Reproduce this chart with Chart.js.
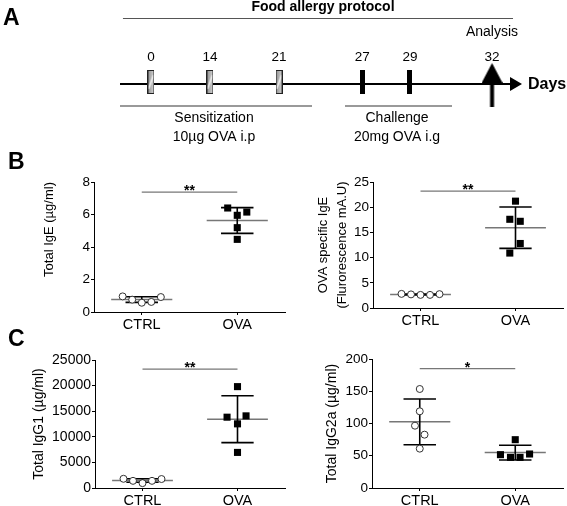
<!DOCTYPE html>
<html>
<head>
<meta charset="utf-8">
<script src="https://cdn.jsdelivr.net/npm/chart.js@4.4.0/dist/chart.umd.min.js"></script>
<style>
html, body { margin: 0; padding: 0; background: #fff; }
#fig { position: relative; width: 567px; height: 506px; overflow: hidden; font-family: "Liberation Sans", Arial, sans-serif; }
.box { position: absolute; }
.tag { position: absolute; font-weight: bold; font-size: 23px; line-height: 23px; color: #000; }
</style>
</head>
<body>
<div id="fig">
  <div class="box" id="boxA"><canvas id="chartA"></canvas></div>
  <div class="box" id="boxB1"><canvas id="chartB1"></canvas></div>
  <div class="box" id="boxB2"><canvas id="chartB2"></canvas></div>
  <div class="box" id="boxC1"><canvas id="chartC1"></canvas></div>
  <div class="box" id="boxC2"><canvas id="chartC2"></canvas></div>
  <div class="tag" style="left:3px;top:6px">A</div>
  <div class="tag" style="left:8px;top:150px">B</div>
  <div class="tag" style="left:8px;top:327px">C</div>
</div>
<script>
// ---- data ----
const groups = ['CTRL', 'OVA'];

// protocol (panel A)
const sensDays = [0, 14, 21];
const challDays = [27, 29];
const analysisDay = 32;

// B left: total IgE
const ige_ctrl = [0.96, 0.76, 0.57, 0.62, 0.92];
const ige_ova = [6.4, 5.95, 6.15, 5.19, 4.47];
const ige_ticks = [0, 2, 4, 6, 8];

// B right: OVA specific IgE
const ovaige_ctrl = [2.8, 2.7, 2.6, 2.6, 2.75];
const ovaige_ova = [21.2, 17.6, 17.2, 12.8, 10.9];
const ovaige_ticks = [0, 5, 10, 15, 20, 25];

// C left: total IgG1
const igg1_ctrl = [1800, 1400, 950, 1400, 1750];
const igg1_ova = [19800, 13830, 14090, 12530, 6950];
const igg1_ticks = [0, 5000, 10000, 15000, 20000, 25000];

// C right: total IgG2a
const igg2a_ctrl = [153.5, 118.9, 96.6, 82.7, 61];
const igg2a_ova = [74.9, 51.7, 47.5, 47.5, 52.7];
const igg2a_ticks = [0, 50, 100, 150, 200];

// significance marks
const sig_text = ['**', '**', '**', '*'];
const sig_level = [7.38, 23.2, 23200, 185];

// dot jitter (fraction of group spacing)
const jit_ige = [[-0.2, -0.1, 0, 0.1, 0.2], [-0.1, 0, 0.1, 0, 0]];
const jit_ovaige = [[-0.2, -0.1, 0, 0.1, 0.2], [0, -0.06, 0.05, 0.05, -0.06]];
const jit_igg1 = [[-0.2, -0.1, 0, 0.1, 0.2], [0, -0.11, 0.09, 0, 0]];
const jit_igg2a = [[0, 0, -0.05, 0.05, 0], [0, -0.155, -0.05, 0.05, 0.15]];

Chart.defaults.font.family = '"Liberation Sans", Arial, sans-serif';
Chart.defaults.color = '#000';
const FONT = '"Liberation Sans", Arial, sans-serif';

function place(id, left, top, w, h) {
  const b = document.getElementById(id);
  b.style.left = left + 'px'; b.style.top = top + 'px';
  b.style.width = w + 'px'; b.style.height = h + 'px';
}

function mean(a) { return a.reduce((s, v) => s + v, 0) / a.length; }
function sd(a) {
  const m = mean(a);
  return Math.sqrt(a.reduce((s, v) => s + (v - m) * (v - m), 0) / (a.length - 1));
}
function seg(x1, y1, x2, y2, color, w) {
  return { data: [{ x: x1, y: y1 }, { x: x2, y: y2 }], showLine: true,
           borderColor: color, borderWidth: w, pointRadius: 0 };
}

// ---- panel A: protocol timeline (schematic, not to scale) ----
const daySlot = { 0: 0, 14: 1, 21: 2.17, 27: 3.58, 29: 4.39, 32: 5.78 };

function hatchImg() {
  const c = document.createElement('canvas'); c.width = 7; c.height = 24;
  const g = c.getContext('2d');
  const grad = g.createLinearGradient(0, 0, 7, 0);
  grad.addColorStop(0, '#8c8c8c'); grad.addColorStop(1, '#d8d8d8');
  g.fillStyle = grad; g.fillRect(0, 0, 7, 24);
  g.strokeStyle = '#f4f4f4'; g.lineWidth = 1.5;
  g.beginPath(); g.moveTo(1, 19); g.lineTo(6, 5); g.stroke();
  g.strokeStyle = '#222'; g.lineWidth = 1; g.strokeRect(0.5, 0.5, 6, 23);
  return c;
}
function barImg() {
  const c = document.createElement('canvas'); c.width = 5; c.height = 24;
  const g = c.getContext('2d');
  g.fillStyle = '#000'; g.fillRect(0, 0, 5, 24);
  return c;
}
function analysisImg() {
  const c = document.createElement('canvas'); c.width = 21; c.height = 44;
  const g = c.getContext('2d');
  g.fillStyle = '#000';
  g.beginPath(); g.moveTo(10.5, 0); g.lineTo(21, 20); g.lineTo(0, 20); g.closePath(); g.fill();
  g.fillRect(8.5, 19, 4, 25);
  return c;
}

place('boxA', 0, 0, 567, 150);
const textsA = [
  { text: 'Food allergy protocol', x: 2.915, y: 7, font: 'bold 14px ' + FONT },
  { text: 'Analysis', x: daySlot[analysisDay], y: 32, font: '14px ' + FONT },
  { text: 'Days', x: 6.39, y: 85, font: 'bold 16px ' + FONT, align: 'left' },
  { text: 'Sensitization', x: 1.068, y: 118, font: '14px ' + FONT },
  { text: '10µg OVA i.p', x: 1.068, y: 137, font: '14px ' + FONT },
  { text: 'Challenge', x: 4.17, y: 118, font: '14px ' + FONT },
  { text: '20mg OVA i.g', x: 4.17, y: 137, font: '14px ' + FONT }
];
sensDays.concat(challDays, [analysisDay]).forEach(d => {
  textsA.push({ text: String(d), x: daySlot[d], y: 57, font: '13.5px ' + FONT });
});

new Chart(document.getElementById('chartA'), {
  type: 'scatter',
  data: {
    datasets: [
      { data: sensDays.map(d => ({ x: daySlot[d], y: 82 })), pointStyle: hatchImg(), pointRadius: 5 },
      { data: challDays.map(d => ({ x: daySlot[d], y: 82 })), pointStyle: barImg(), pointRadius: 5 },
      { data: [{ x: daySlot[analysisDay], y: 85 }], pointStyle: analysisImg(), pointRadius: 5 },
      { data: [{ x: 6.153, y: 84 }], pointStyle: 'triangle', pointRotation: 90, pointRadius: 8,
        pointBackgroundColor: '#000', pointBorderColor: '#000', pointBorderWidth: 0 },
      seg(-0.525, 84, 6.09, 84, '#000', 2),
      seg(-0.475, 18.5, 6.136, 18.5, '#555', 1.2),
      seg(-0.525, 106, 2.729, 106, '#777', 1.3),
      seg(3.288, 106, 5.102, 106, '#777', 1.3)
    ]
  },
  options: {
    responsive: true, maintainAspectRatio: false, animation: false,
    layout: { padding: 0, autoPadding: false },
    plugins: { legend: { display: false }, tooltip: { enabled: false } },
    scales: {
      x: { type: 'linear', min: -2.559, max: 7.051, display: false },
      y: { type: 'linear', min: 0, max: 150, reverse: true, display: false }
    }
  },
  plugins: [{
    id: 'labelsA',
    afterDatasetsDraw(chart) {
      const { ctx, scales: { x, y } } = chart;
      ctx.save();
      ctx.fillStyle = '#000';
      ctx.textBaseline = 'middle';
      textsA.forEach(t => {
        ctx.font = t.font;
        ctx.textAlign = t.align || 'center';
        ctx.fillText(t.text, x.getPixelForValue(t.x), y.getPixelForValue(t.y));
      });
      ctx.restore();
    }
  }]
});

// ---- panels B and C: dot plots with mean and SD ----
function dotPlot(cfg) {
  const { id, box, area, ctrl, ova, jit, ticks, title, tickSize, idx } = cfg;
  place('box' + id, box[0], box[1], box[2], box[3]);
  const datasets = [
    { data: ctrl.map((v, i) => ({ x: 0 + jit[0][i], y: v })), pointStyle: 'circle', pointRadius: 3.5,
      pointBackgroundColor: '#fff', pointBorderColor: '#333', pointBorderWidth: 1 },
    { data: ova.map((v, i) => ({ x: 1 + jit[1][i], y: v })), pointStyle: 'rect', pointRadius: 5,
      pointBackgroundColor: '#000', pointBorderColor: '#000', pointBorderWidth: 0 }
  ];
  [ctrl, ova].forEach((vals, g) => {
    const m = mean(vals), s = sd(vals);
    datasets.push(seg(g - 0.17, m + s, g + 0.17, m + s, '#000', 1.6));
    datasets.push(seg(g - 0.17, m - s, g + 0.17, m - s, '#000', 1.6));
    datasets.push(seg(g, m - s, g, m + s, '#000', 1.6));
    datasets.push(seg(g - 0.32, m, g + 0.32, m, '#777', 1.5));
  });
  datasets.push(seg(0, sig_level[idx], 1, sig_level[idx], '#777', 1.2));

  const gridOpts = { drawOnChartArea: false, drawTicks: true, tickLength: 3, color: '#000' };
  new Chart(document.getElementById('chart' + id), {
    type: 'scatter',
    data: { datasets },
    options: {
      responsive: true, maintainAspectRatio: false, animation: false,
      layout: { autoPadding: false,
                padding: { top: area[2] - box[1], right: box[0] + box[2] - area[1], left: 0, bottom: 0 } },
      plugins: { legend: { display: false }, tooltip: { enabled: false } },
      scales: {
        x: {
          type: 'linear', min: -0.5, max: 1.5,
          afterBuildTicks: s => { s.ticks = [{ value: 0 }, { value: 1 }]; },
          afterFit: s => { s.height = box[1] + box[3] - area[3]; },
          ticks: { callback: v => groups[v], font: { size: 14.5 }, padding: 1, maxRotation: 0, autoSkip: false, color: '#000' },
          grid: gridOpts,
          border: { display: true, color: '#000', width: 1 }
        },
        y: {
          type: 'linear', min: ticks[0], max: ticks[ticks.length - 1],
          afterBuildTicks: s => { s.ticks = ticks.map(v => ({ value: v })); },
          afterFit: s => { s.width = area[0] - box[0]; },
          ticks: { callback: v => String(v), font: { size: tickSize }, padding: 1, color: '#000' },
          grid: gridOpts,
          border: { display: true, color: '#000', width: 1 },
          title: { display: true, text: title.text, color: '#000', align: title.align,
                   font: { size: title.size, lineHeight: title.lh },
                   padding: { top: title.pad, bottom: 0 } }
        }
      }
    },
    plugins: [{
      id: 'stars',
      afterDatasetsDraw(chart) {
        const { ctx, scales: { x, y } } = chart;
        ctx.save();
        ctx.font = 'bold 14px ' + FONT;
        ctx.fillStyle = '#000';
        ctx.textAlign = 'center';
        ctx.textBaseline = 'alphabetic';
        ctx.fillText(sig_text[idx], x.getPixelForValue(0.5), y.getPixelForValue(sig_level[idx]) + 3);
        ctx.restore();
      }
    }]
  });
}

// box: [left, top, width, height], area: [left, right, top, bottom] in page pixels
dotPlot({ id: 'B1', idx: 0, box: [0, 168, 290, 167], area: [94, 285, 182, 312],
  ctrl: ige_ctrl, ova: ige_ova, jit: jit_ige, ticks: ige_ticks, tickSize: 13.5,
  title: { text: 'Total IgE (µg/ml)', size: 13, lh: 1.2, pad: 42, align: 'end' } });
dotPlot({ id: 'B2', idx: 1, box: [280, 168, 287, 167], area: [373, 563, 182, 308],
  ctrl: ovaige_ctrl, ova: ovaige_ova, jit: jit_ovaige, ticks: ovaige_ticks, tickSize: 13.5,
  title: { text: ['OVA specific IgE', '(Flurorescence mA.U)'], size: 13, lh: 19 / 13, pad: 33.5, align: 'center' } });
dotPlot({ id: 'C1', idx: 2, box: [0, 346, 290, 160], area: [95, 285, 360, 488],
  ctrl: igg1_ctrl, ova: igg1_ova, jit: jit_igg1, ticks: igg1_ticks, tickSize: 14,
  title: { text: 'Total IgG1 (µg/ml)', size: 14, lh: 1.2, pad: 30.6, align: 'center' } });
dotPlot({ id: 'C2', idx: 3, box: [280, 346, 287, 160], area: [372, 563, 359, 488],
  ctrl: igg2a_ctrl, ova: igg2a_ova, jit: jit_igg2a, ticks: igg2a_ticks, tickSize: 13.5,
  title: { text: 'Total IgG2a (µg/ml)', size: 14, lh: 1.2, pad: 43.6, align: 'center' } });
</script>
</body>
</html>
